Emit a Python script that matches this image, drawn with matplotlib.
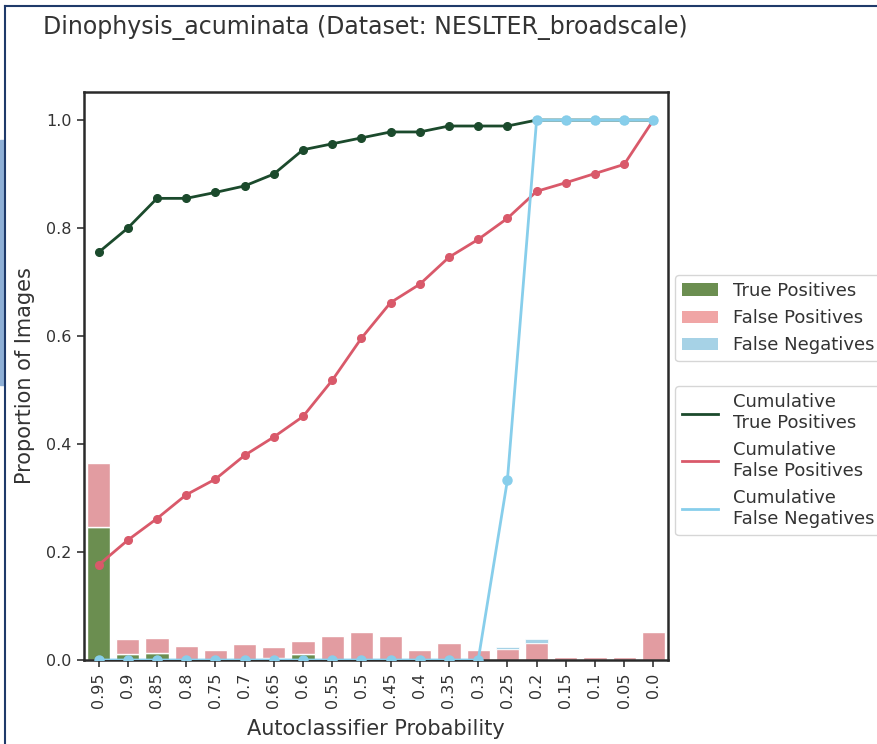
import matplotlib
matplotlib.use("Agg")
import matplotlib.pyplot as plt
from matplotlib.patches import Patch, Rectangle
from matplotlib.lines import Line2D
import numpy as np

thresholds = ["0.95", "0.9", "0.85", "0.8", "0.75", "0.7", "0.65", "0.6", "0.55", "0.5",
              "0.45", "0.4", "0.35", "0.3", "0.25", "0.2", "0.15", "0.1", "0.05", "0.0"]

tp_bar = [0.246, 0.011, 0.013, 0.0, 0.0, 0.0, 0.004, 0.011, 0.0, 0.0,
          0.0, 0.0, 0.0, 0.0, 0.0, 0.0, 0.0, 0.0, 0.0, 0.0]
fp_bar = [0.119, 0.028, 0.027, 0.026, 0.018, 0.030, 0.021, 0.025, 0.044, 0.052,
          0.044, 0.018, 0.032, 0.018, 0.020, 0.032, 0.0055, 0.0055, 0.0055, 0.052]
fn_bar = [0.0, 0.0, 0.0, 0.0, 0.0, 0.0, 0.0, 0.0, 0.0, 0.0,
          0.0, 0.0, 0.0, 0.0, 0.004, 0.006, 0.0, 0.0, 0.0, 0.0]

cum_tp = [0.755, 0.800, 0.855, 0.855, 0.866, 0.878, 0.900, 0.945, 0.956, 0.967,
          0.978, 0.978, 0.989, 0.989, 0.989, 1.0, 1.0, 1.0, 1.0, 1.0]
cum_fp = [0.176, 0.222, 0.262, 0.306, 0.335, 0.379, 0.413, 0.451, 0.518, 0.596,
          0.662, 0.696, 0.746, 0.779, 0.818, 0.868, 0.884, 0.901, 0.918, 1.0]
cum_fn = [0.0, 0.0, 0.0, 0.0, 0.0, 0.0, 0.0, 0.0, 0.0, 0.0,
          0.0, 0.0, 0.0, 0.0, 0.333, 1.0, 1.0, 1.0, 1.0, 1.0]

TP_BAR = "#6b8e50"
FP_BAR = "#e29ca1"
FN_BAR = "#a6d2e6"
TP_LINE = "#1b4a2c"
FP_LINE = "#d9596a"
FN_LINE = "#87ceeb"
TXT = "#333333"

plt.rcParams['font.family'] = ['DejaVu Sans']
fig = plt.figure(figsize=(8.78, 7.44), dpi=100)
ax = fig.add_axes([84/878, 84/744, 584/878, 568/744])

x = np.arange(len(thresholds))
tp = np.array(tp_bar); fp = np.array(fp_bar); fn = np.array(fn_bar)
ax.bar(x, tp, width=0.8, color=TP_BAR, edgecolor="white", linewidth=1, zorder=2)
ax.bar(x, fp, bottom=tp, width=0.8, color=FP_BAR, edgecolor="white", linewidth=1, zorder=2)
ax.bar(x, fn, bottom=tp + fp, width=0.8, color=FN_BAR, edgecolor="white", linewidth=0.5, zorder=2)

ax.plot(x, cum_tp, color=TP_LINE, marker="o", markersize=5.5, linewidth=2, zorder=3)
ax.plot(x, cum_fp, color=FP_LINE, marker="o", markersize=5.5, linewidth=2, zorder=3)
ax.plot(x, cum_fn, color=FN_LINE, marker="o", markersize=6.5, linewidth=2, zorder=3)

ax.set_xlim(-0.5, len(thresholds) - 0.5)
ax.set_ylim(0, 1.052)
ax.set_xticks(x)
ax.set_xticklabels(thresholds, rotation=90, fontsize=11.5, color=TXT)
ax.set_yticks([0.0, 0.2, 0.4, 0.6, 0.8, 1.0])
ax.set_yticklabels(["0.0", "0.2", "0.4", "0.6", "0.8", "1.0"], fontsize=11.5, color=TXT)
ax.tick_params(axis="both", length=5, width=1.2, color=TXT, pad=4)
for s in ax.spines.values():
    s.set_linewidth(1.8)
    s.set_color("#2a2a2a")
ax.set_xlabel("Autoclassifier Probability", fontsize=15, color=TXT, labelpad=8)
ax.set_ylabel("Proportion of Images", fontsize=15, color=TXT, labelpad=8)

fig.text(365/878, 1 - 27/744, "Dinophysis_acuminata (Dataset: NESLTER_broadscale)",
         ha="center", va="center", fontsize=17, color=TXT)

h1 = [Patch(facecolor=TP_BAR, label="True Positives"),
      Patch(facecolor="#f0a5a5", label="False Positives"),
      Patch(facecolor=FN_BAR, label="False Negatives")]
leg1 = ax.legend(handles=h1, loc="upper left", bbox_to_anchor=(1.012, 0.678),
                 fontsize=13, frameon=True, handlelength=2.0, borderaxespad=0)
for t in leg1.get_texts():
    t.set_color(TXT)
ax.add_artist(leg1)
h2 = [Line2D([], [], color=TP_LINE, lw=2, label="Cumulative\nTrue Positives"),
      Line2D([], [], color=FP_LINE, lw=2, label="Cumulative\nFalse Positives"),
      Line2D([], [], color=FN_LINE, lw=2, label="Cumulative\nFalse Negatives")]
leg2 = ax.legend(handles=h2, loc="upper left", bbox_to_anchor=(1.012, 0.482),
                 fontsize=13, frameon=True, handlelength=2.0, borderaxespad=0)
for t in leg2.get_texts():
    t.set_color(TXT)

# screenshot frame
fig.add_artist(Line2D([5/878, 5/878], [0, 1 - 6/744], color="#1f3a6a", lw=1.5))
fig.add_artist(Line2D([5/878, 1], [1 - 6/744, 1 - 6/744], color="#1f3a6a", lw=1.5))
fig.add_artist(Rectangle((0, 1 - 385/744), 4/878, (385 - 140)/744, color="#8fb0d6",
                         transform=fig.transFigure))

fig.savefig("out.png", dpi=100)
